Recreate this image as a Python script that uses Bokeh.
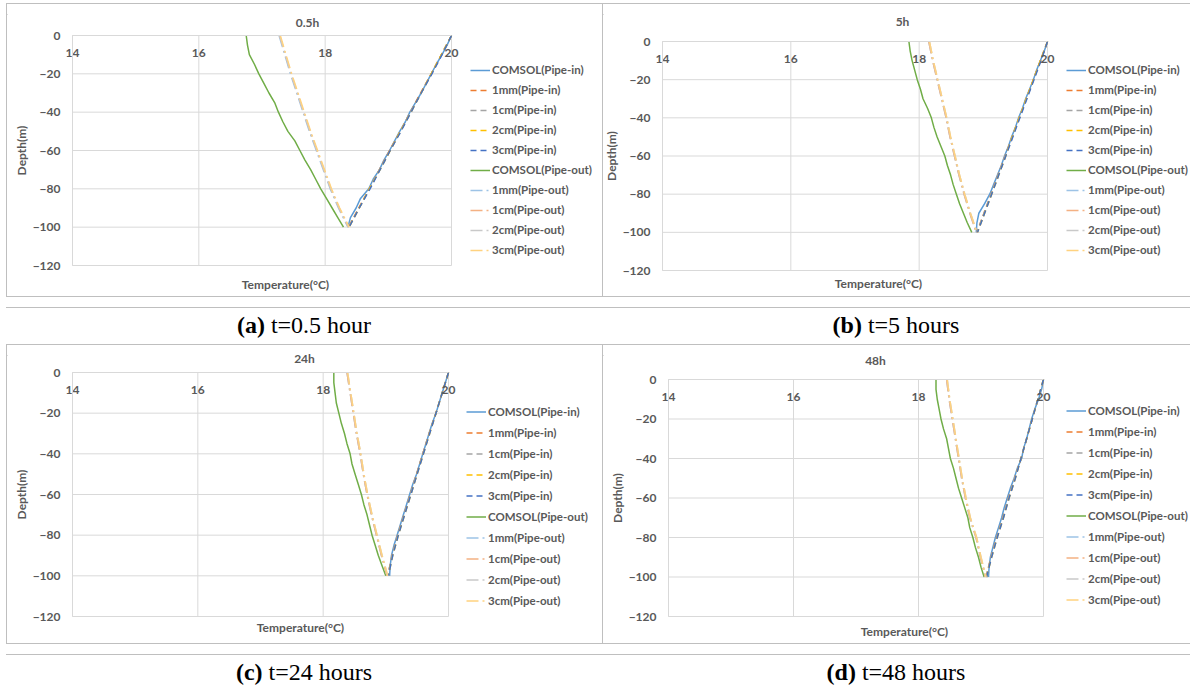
from bokeh.plotting import figure
from bokeh.models import Legend, LegendItem, Label, Div, Spacer, FixedTicker, LinearAxis, Range1d
from bokeh.layouts import row, column
from bokeh.embed import file_html
from bokeh.resources import INLINE

# ---------------- data ----------------
DEPTH_FINE = [0, -5, -10, -15, -20, -25, -30, -35, -40, -45, -50,
              -55, -60, -65, -70, -75, -80, -85, -90, -95, -100]
DEPTH = [0, -10, -20, -30, -40, -50, -60, -70, -80, -90, -100]

SERIES_NAMES = ["COMSOL(Pipe-in)", "1mm(Pipe-in)", "1cm(Pipe-in)", "2cm(Pipe-in)", "3cm(Pipe-in)",
                "COMSOL(Pipe-out)", "1mm(Pipe-out)", "1cm(Pipe-out)", "2cm(Pipe-out)", "3cm(Pipe-out)"]
PANEL_TITLES = ["0.5h", "5h", "24h", "48h"]
CAPTION_LETTERS = ["a", "b", "c", "d"]
CAPTION_TEXTS = ["t=0.5 hour", "t=5 hours", "t=24 hours", "t=48 hours"]
X_TICKS = [14, 16, 18, 20]
Y_TICKS = [0, -20, -40, -60, -80, -100, -120]
X_MIN, X_MAX = 14, 20
Y_MIN, Y_MAX = -120, 0
X_LABEL = "Temperature(°C)"
Y_LABEL = "Depth(m)"

# (a) t = 0.5 h
A_IN_COMSOL = [20.00, 19.93, 19.85, 19.76, 19.68, 19.60, 19.52, 19.43, 19.34, 19.27, 19.18,
               19.10, 19.02, 18.93, 18.86, 18.76, 18.69, 18.56, 18.49, 18.40, 18.36]
A_IN_1MM = [20.00, 19.84, 19.68, 19.51, 19.35, 19.19, 19.02, 18.86, 18.70, 18.53, 18.37]
A_IN_1CM = [20.00, 19.84, 19.68, 19.52, 19.35, 19.19, 19.03, 18.86, 18.70, 18.54, 18.37]
A_IN_2CM = [20.00, 19.84, 19.68, 19.52, 19.36, 19.19, 19.03, 18.87, 18.70, 18.54, 18.38]
A_IN_3CM = [20.00, 19.85, 19.69, 19.52, 19.36, 19.20, 19.03, 18.87, 18.71, 18.54, 18.38]
A_OUT_COMSOL = [16.75, 16.77, 16.80, 16.88, 16.95, 17.03, 17.11, 17.20, 17.26, 17.33, 17.41,
                17.52, 17.60, 17.68, 17.77, 17.85, 17.93, 18.02, 18.11, 18.20, 18.29]
A_OUT_1MM = [17.27, 17.36, 17.45, 17.55, 17.65, 17.75, 17.86, 17.97, 18.08, 18.21, 18.36]
A_OUT_1CM = [17.28, 17.37, 17.46, 17.56, 17.66, 17.76, 17.87, 17.98, 18.09, 18.22, 18.37]
A_OUT_2CM = [17.28, 17.37, 17.46, 17.56, 17.66, 17.76, 17.87, 17.98, 18.09, 18.22, 18.37]
A_OUT_3CM = [17.29, 17.38, 17.47, 17.57, 17.67, 17.77, 17.88, 17.99, 18.10, 18.23, 18.38]

# (b) t = 5 h
B_IN_COMSOL = [20.00, 19.95, 19.89, 19.83, 19.78, 19.72, 19.66, 19.61, 19.55, 19.50, 19.44,
               19.39, 19.33, 19.28, 19.22, 19.16, 19.10, 19.02, 18.93, 18.90, 18.89]
B_IN_1MM = [20.00, 19.89, 19.78, 19.67, 19.56, 19.45, 19.34, 19.23, 19.12, 19.01, 18.90]
B_IN_1CM = [20.00, 19.89, 19.78, 19.67, 19.56, 19.45, 19.34, 19.23, 19.12, 19.01, 18.90]
B_IN_2CM = [20.00, 19.89, 19.78, 19.67, 19.56, 19.45, 19.35, 19.24, 19.13, 19.02, 18.91]
B_IN_3CM = [20.00, 19.90, 19.79, 19.68, 19.57, 19.46, 19.35, 19.24, 19.13, 19.02, 18.91]
B_OUT_COMSOL = [17.84, 17.86, 17.89, 17.93, 17.97, 18.02, 18.06, 18.13, 18.19, 18.23, 18.28,
                18.34, 18.40, 18.44, 18.49, 18.53, 18.58, 18.63, 18.69, 18.75, 18.82]
B_OUT_1MM = [18.15, 18.21, 18.28, 18.35, 18.42, 18.48, 18.55, 18.62, 18.70, 18.79, 18.89]
B_OUT_1CM = [18.15, 18.21, 18.28, 18.35, 18.42, 18.48, 18.55, 18.62, 18.70, 18.79, 18.89]
B_OUT_2CM = [18.16, 18.22, 18.29, 18.36, 18.43, 18.49, 18.56, 18.63, 18.71, 18.80, 18.90]
B_OUT_3CM = [18.16, 18.22, 18.29, 18.36, 18.43, 18.49, 18.56, 18.63, 18.71, 18.80, 18.90]

# (c) t = 24 h
C_IN_COMSOL = [20.00, 19.95, 19.90, 19.85, 19.80, 19.74, 19.69, 19.64, 19.59, 19.54, 19.49,
               19.43, 19.38, 19.33, 19.28, 19.23, 19.18, 19.13, 19.09, 19.07, 19.06]
C_IN_1MM = [20.00, 19.90, 19.80, 19.69, 19.59, 19.49, 19.39, 19.29, 19.19, 19.10, 19.03]
C_IN_1CM = [20.00, 19.90, 19.80, 19.69, 19.59, 19.49, 19.39, 19.29, 19.19, 19.10, 19.03]
C_IN_2CM = [20.00, 19.90, 19.80, 19.70, 19.60, 19.50, 19.40, 19.30, 19.20, 19.11, 19.04]
C_IN_3CM = [20.00, 19.90, 19.80, 19.70, 19.60, 19.50, 19.40, 19.30, 19.20, 19.11, 19.04]
C_OUT_COMSOL = [18.17, 18.17, 18.19, 18.21, 18.25, 18.29, 18.34, 18.38, 18.43, 18.46, 18.51,
                18.56, 18.61, 18.65, 18.70, 18.74, 18.78, 18.83, 18.88, 18.94, 19.00]
C_OUT_1MM = [18.38, 18.43, 18.48, 18.53, 18.59, 18.64, 18.70, 18.77, 18.85, 18.93, 19.02]
C_OUT_1CM = [18.38, 18.43, 18.48, 18.53, 18.59, 18.64, 18.70, 18.77, 18.85, 18.93, 19.02]
C_OUT_2CM = [18.39, 18.44, 18.49, 18.54, 18.60, 18.65, 18.71, 18.78, 18.86, 18.94, 19.03]
C_OUT_3CM = [18.39, 18.44, 18.49, 18.54, 18.60, 18.65, 18.71, 18.78, 18.86, 18.94, 19.03]

# (d) t = 48 h
D_IN_COMSOL = [20.00, 19.97, 19.92, 19.86, 19.81, 19.77, 19.73, 19.68, 19.65, 19.58, 19.53,
               19.47, 19.42, 19.37, 19.33, 19.28, 19.23, 19.19, 19.15, 19.13, 19.12]
D_IN_1MM = [20.00, 19.91, 19.82, 19.73, 19.64, 19.54, 19.44, 19.35, 19.25, 19.16, 19.08]
D_IN_1CM = [20.00, 19.91, 19.82, 19.73, 19.64, 19.54, 19.44, 19.35, 19.25, 19.16, 19.08]
D_IN_2CM = [20.00, 19.91, 19.82, 19.73, 19.64, 19.55, 19.45, 19.36, 19.26, 19.17, 19.09]
D_IN_3CM = [20.00, 19.91, 19.82, 19.73, 19.64, 19.55, 19.45, 19.36, 19.26, 19.17, 19.09]
D_OUT_COMSOL = [18.28, 18.28, 18.30, 18.33, 18.36, 18.40, 18.45, 18.48, 18.51, 18.56, 18.60,
                18.64, 18.69, 18.74, 18.79, 18.82, 18.87, 18.91, 18.96, 19.00, 19.05]
D_OUT_1MM = [18.45, 18.49, 18.54, 18.59, 18.64, 18.69, 18.75, 18.82, 18.92, 18.99, 19.07]
D_OUT_1CM = [18.45, 18.49, 18.54, 18.59, 18.64, 18.69, 18.75, 18.82, 18.92, 18.99, 19.07]
D_OUT_2CM = [18.46, 18.50, 18.55, 18.60, 18.65, 18.70, 18.76, 18.83, 18.93, 19.00, 19.08]
D_OUT_3CM = [18.46, 18.50, 18.55, 18.60, 18.65, 18.70, 18.76, 18.83, 18.93, 19.00, 19.08]

PANEL_SERIES = [
    [A_IN_COMSOL, A_IN_1MM, A_IN_1CM, A_IN_2CM, A_IN_3CM, A_OUT_COMSOL, A_OUT_1MM, A_OUT_1CM, A_OUT_2CM, A_OUT_3CM],
    [B_IN_COMSOL, B_IN_1MM, B_IN_1CM, B_IN_2CM, B_IN_3CM, B_OUT_COMSOL, B_OUT_1MM, B_OUT_1CM, B_OUT_2CM, B_OUT_3CM],
    [C_IN_COMSOL, C_IN_1MM, C_IN_1CM, C_IN_2CM, C_IN_3CM, C_OUT_COMSOL, C_OUT_1MM, C_OUT_1CM, C_OUT_2CM, C_OUT_3CM],
    [D_IN_COMSOL, D_IN_1MM, D_IN_1CM, D_IN_2CM, D_IN_3CM, D_OUT_COMSOL, D_OUT_1MM, D_OUT_1CM, D_OUT_2CM, D_OUT_3CM],
]

# ---------------- styles ----------------
COLORS = ["#5B9BD5", "#ED7D31", "#A5A5A5", "#FFC000", "#4472C4",
          "#70AD47", "#9DC3E6", "#F4B183", "#C9C9C9", "#FFD27F"]
DASHES = ["solid", "6 4", "6 4", "6 4", "6 4",
          "solid", "12 4 2 4", "12 4 2 4", "12 4 2 4", "12 4 2 4"]
TXT = "#595959"
GRID = "#d9d9d9"
BORDER = "#bfbfbf"
FONT = "Lato"

# page-space geometry of each panel: canvas origin/size, plot-area box, text centres, legend
GEOM = [
    dict(ox=7, oy=4, cw=595, ch=292, fl=72, fr=451, ft=35, fb=265,
         tcx=307, tcy=21.5, xlcx=285, xlcy=284, lgx=470, lgy=69.5, lgs=20),
    dict(ox=603, oy=4, cw=587, ch=292, fl=662, fr=1047, ft=41, fb=270,
         tcx=902, tcy=20.5, xlcx=878, xlcy=283, lgx=1066, lgy=69.5, lgs=20),
    dict(ox=7, oy=345, cw=595, ch=298, fl=72, fr=448, ft=372, fb=616,
         tcx=304, tcy=357.5, xlcx=300, xlcy=627, lgx=466, lgy=411, lgs=21),
    dict(ox=603, oy=345, cw=587, ch=298, fl=668, fr=1043, ft=379, fb=616,
         tcx=875, tcy=360, xlcx=904, xlcy=631, lgx=1066, lgy=410, lgs=21),
]


def make_panel(title, series, g):
    ppx = (g["fr"] - g["fl"]) / (X_MAX - X_MIN)
    ppy = (g["fb"] - g["ft"]) / (Y_MAX - Y_MIN)
    x0 = X_MIN - (g["fl"] - g["ox"]) / ppx
    x1 = X_MAX + (g["ox"] + g["cw"] - g["fr"]) / ppx
    y1 = Y_MAX + (g["ft"] - g["oy"]) / ppy
    y0 = Y_MIN - (g["oy"] + g["ch"] - g["fb"]) / ppy

    def px2x(px):
        return x0 + (px - g["ox"]) / ppx

    def py2y(py):
        return y1 - (py - g["oy"]) / ppy

    p = figure(width=g["cw"], height=g["ch"],
               x_range=Range1d(x0, x1), y_range=Range1d(y0, y1),
               output_backend="svg", toolbar_location=None,
               x_axis_location=None, y_axis_location=None,
               min_border=0, min_border_left=0, min_border_right=0,
               min_border_top=0, min_border_bottom=0)
    p.background_fill_color = "white"
    p.border_fill_color = "white"
    p.outline_line_color = None
    for gr in p.grid:
        gr.visible = False

    # plot-area grid (bounded to the plot area)
    p.segment(x0=X_TICKS, y0=[Y_MIN] * len(X_TICKS), x1=X_TICKS, y1=[Y_MAX] * len(X_TICKS),
              line_color=GRID, line_width=1)
    p.segment(x0=[X_MIN] * len(Y_TICKS), y0=Y_TICKS, x1=[X_MAX] * len(Y_TICKS), y1=Y_TICKS,
              line_color=GRID, line_width=1)

    # axes crossing at the top-left corner of the plot area
    xa = LinearAxis(fixed_location=Y_MAX, bounds=(X_MIN, X_MAX), ticker=FixedTicker(ticks=X_TICKS))
    ya = LinearAxis(fixed_location=X_MIN, bounds=(Y_MIN, Y_MAX), ticker=FixedTicker(ticks=Y_TICKS))
    for ax in (xa, ya):
        ax.axis_line_color = GRID
        ax.major_tick_line_color = None
        ax.minor_tick_line_color = None
        ax.major_tick_out = 0
        ax.major_tick_in = 0
        ax.minor_tick_out = 0
        ax.minor_tick_in = 0
        ax.major_label_text_font = FONT
        ax.major_label_text_font_size = "12px"
        ax.major_label_text_font_style = "bold"
        ax.major_label_text_color = TXT
    xa.major_label_standoff = 13
    ya.major_label_standoff = 12
    ya.axis_label = Y_LABEL
    ya.axis_label_text_font = FONT
    ya.axis_label_text_font_size = "12px"
    ya.axis_label_text_font_style = "bold"
    ya.axis_label_text_color = TXT
    ya.axis_label_standoff = 1
    p.add_layout(xa, "below")
    p.add_layout(ya, "left")

    # chart title and horizontal axis title
    for text, cx, cy in ((title, g["tcx"], g["tcy"]), (X_LABEL, g["xlcx"], g["xlcy"])):
        p.add_layout(Label(x=px2x(cx), y=py2y(cy), text=text,
                           text_align="center", text_baseline="middle",
                           text_font=FONT, text_font_size="12px", text_font_style="bold",
                           text_color=TXT))

    # series
    items = []
    for i, name in enumerate(SERIES_NAMES):
        temps = series[i]
        depths = DEPTH_FINE if len(temps) == len(DEPTH_FINE) else DEPTH
        r = p.line(x=temps, y=depths, line_color=COLORS[i], line_width=1.5,
                   line_dash=DASHES[i])
        items.append(LegendItem(label=name, renderers=[r]))

    n = len(SERIES_NAMES)
    eh = g["lgs"]
    leg_h = n * eh
    leg_top = g["lgy"] - eh / 2
    vx = g["lgx"] - g["ox"]
    vy = (g["oy"] + g["ch"]) - (leg_top + leg_h)
    legend = Legend(items=items, location=(vx, vy), orientation="vertical",
                    border_line_color=None, background_fill_alpha=0,
                    padding=0, margin=0, spacing=0,
                    glyph_width=20, glyph_height=eh, label_height=eh,
                    label_standoff=2,
                    label_text_font=FONT, label_text_font_size="11.5px",
                    label_text_font_style="bold", label_text_color=TXT)
    p.add_layout(legend)
    return p


def hline(w):
    return Div(text=f'<div style="width:{w}px;height:1px;background:{BORDER}"></div>',
               width=w, height=1, margin=0, styles={"background-color": BORDER})


def vline(h):
    return Div(text=f'<div style="width:1px;height:{h}px;background:{BORDER}"></div>',
               width=1, height=h, margin=0, styles={"background-color": BORDER})


def caption(letter, text, w, h, pad):
    html = (f'<div style="width:{w}px;height:{h}px;box-sizing:border-box;padding-top:{pad}px;'
            f'text-align:center;font-family:\'Liberation Serif\',serif;font-size:24px;'
            f'line-height:24px;color:#000;white-space:nowrap;">'
            f'<b>({letter})</b> {text}</div>')
    return Div(text=html, width=w, height=h, margin=0)


figs = [make_panel(PANEL_TITLES[k], PANEL_SERIES[k], GEOM[k]) for k in range(4)]

layout = column(
    Spacer(width=1190, height=3, margin=0),
    row(Spacer(width=6, height=1, margin=0), hline(1184), margin=0),
    row(Spacer(width=6, height=292, margin=0), vline(292), figs[0], vline(292), figs[1], margin=0),
    row(Spacer(width=6, height=1, margin=0), hline(1184), margin=0),
    row(Spacer(width=6, height=47, margin=0),
        caption(CAPTION_LETTERS[0], CAPTION_TEXTS[0], 596, 47, 16),
        caption(CAPTION_LETTERS[1], CAPTION_TEXTS[1], 588, 47, 16), margin=0),
    row(Spacer(width=6, height=1, margin=0), hline(1184), margin=0),
    row(Spacer(width=6, height=298, margin=0), vline(298), figs[2], vline(298), figs[3], margin=0),
    row(Spacer(width=6, height=1, margin=0), hline(1184), margin=0),
    row(Spacer(width=6, height=44, margin=0),
        caption(CAPTION_LETTERS[2], CAPTION_TEXTS[2], 596, 44, 16),
        caption(CAPTION_LETTERS[3], CAPTION_TEXTS[3], 588, 44, 16), margin=0),
    margin=0,
)

open("out.html", "w").write(file_html(layout, INLINE))
